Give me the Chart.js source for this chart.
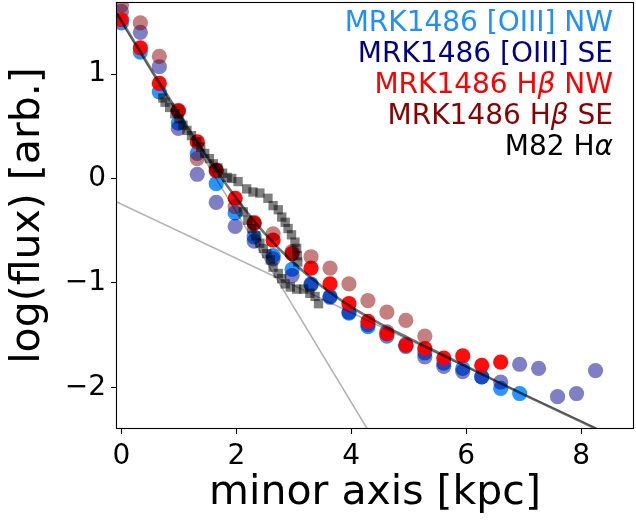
<!DOCTYPE html>
<html>
<head>
<meta charset="utf-8">
<script src="https://cdn.jsdelivr.net/npm/chart.js@4/dist/chart.umd.min.js"></script>
<style>
  html, body { margin: 0; padding: 0; background: #fff; }
  #c { display: block; }
</style>
</head>
<body>
<canvas id="c" width="636" height="522"></canvas>
<script>
// ---- tick labels ----
const xTicks = [0, 2, 4, 6, 8];
const yTicks = [-2, -1, 0, 1];

// ---- MRK1486 [OIII] NW ----
const oiiiNW_x = [0, 0.33, 0.66, 0.99, 1.32, 1.65, 1.98, 2.31, 2.64, 2.97, 3.30, 3.63, 3.96, 4.29, 4.62, 4.95, 5.28, 5.61, 5.94, 6.27, 6.60, 6.93];
const oiiiNW_y = [1.49, 1.21, 0.83, 0.53, 0.24, -0.05, -0.33, -0.56, -0.74, -0.87, -1.01, -1.13, -1.29, -1.42, -1.51, -1.61, -1.67, -1.77, -1.82, -1.90, -2.01, -2.06];

// ---- MRK1486 [OIII] SE ----
const oiiiSE_x = [0, 0.33, 0.66, 0.99, 1.32, 1.65, 1.98, 2.31, 2.64, 2.97, 3.30, 3.63, 3.96, 4.29, 4.62, 4.95, 5.28, 5.61, 5.94, 6.27, 6.60, 6.93, 7.26, 7.59, 7.92, 8.25];
const oiiiSE_y = [1.60, 1.40, 1.07, 0.48, 0.04, -0.23, -0.46, -0.60, -0.77, -0.93, -1.02, -1.14, -1.28, -1.40, -1.47, -1.59, -1.71, -1.80, -1.85, -1.90, -1.95, -1.78, -1.82, -2.09, -2.06, -1.84];

// ---- MRK1486 Hbeta NW ----
const hbNW_x = [0, 0.33, 0.66, 0.99, 1.32, 1.65, 1.98, 2.31, 2.64, 2.97, 3.30, 3.63, 3.96, 4.29, 4.62, 4.95, 5.28, 5.61, 5.94, 6.27, 6.60];
const hbNW_y = [1.52, 1.25, 0.91, 0.65, 0.35, 0.08, -0.19, -0.43, -0.59, -0.72, -0.86, -1.01, -1.20, -1.37, -1.49, -1.60, -1.63, -1.72, -1.70, -1.79, -1.76];

// ---- MRK1486 Hbeta SE ----
const hbSE_x = [0, 0.33, 0.66, 0.99, 1.32, 1.65, 1.98, 2.31, 2.64, 2.97, 3.30, 3.63, 3.96, 4.29, 4.62, 4.95, 5.28];
const hbSE_y = [1.66, 1.49, 1.17, 0.64, 0.19, 0.07, -0.27, -0.42, -0.53, -0.70, -0.75, -0.86, -1.01, -1.17, -1.28, -1.36, -1.51];

// ---- M82 Halpha ----
const m82_x = [0.72, 0.76, 0.84, 0.93, 1.00, 1.07, 1.14, 1.22, 1.31, 1.38, 1.45, 1.53, 1.60, 1.68, 1.76, 1.84,
               1.92, 2.03, 2.18, 2.29, 2.41, 2.55, 2.64, 2.73, 2.79, 2.85, 2.90, 2.96, 3.02, 3.05, 3.06, 3.07,
               2.12, 2.20, 2.27, 2.34, 2.41, 2.47, 2.53, 2.59, 2.64, 2.73, 2.79, 2.85, 2.94, 3.05, 3.17, 3.28, 3.37, 3.43];
const m82_y = [0.77, 0.73, 0.68, 0.62, 0.57, 0.51, 0.46, 0.41, 0.35, 0.30, 0.24, 0.19, 0.14, 0.10, 0.05, 0.01,
               0.00, -0.03, -0.10, -0.13, -0.14, -0.19, -0.26, -0.30, -0.37, -0.42, -0.48, -0.54, -0.61, -0.67, -0.74, -0.80,
               -0.32, -0.40, -0.48, -0.55, -0.62, -0.67, -0.72, -0.78, -0.85, -0.91, -0.96, -1.01, -1.04, -1.06, -1.06, -1.10, -1.13, -1.20];

// ---- fitted curve (dark) ----
const model_x = [-0.1, 0, 0.5, 1, 1.5, 2, 2.5, 3, 3.5, 4, 4.5, 5, 6, 7, 8, 8.5];
const model_y = [1.60, 1.51, 1.06, 0.62, 0.20, -0.19, -0.53, -0.81, -1.04, -1.23, -1.39, -1.53, -1.80, -2.07, -2.33, -2.46];

// ---- component lines (light) ----
const steep_x = [-0.1, 4.5];
const steep_y = [1.59, -2.60];
const shallow_x = [-0.1, 9.0];
const shallow_y = [-0.22, -2.585];

// ---- legend ----
const legendLabels = ['MRK1486 [OIII] NW', 'MRK1486 [OIII] SE', 'MRK1486 Hβ NW', 'MRK1486 Hβ SE', 'M82 Hα'];
const legendColors = ['#1E90FF', '#00008B', '#FF0000', '#8B0000', '#000000'];

const zip = (xs, ys) => xs.map((x, i) => ({ x: x, y: ys[i] }));
const FONT = '"DejaVu Sans", "Liberation Sans", sans-serif';

const frameAndLegend = {
  id: 'frameAndLegend',
  afterDraw(chart) {
    const ctx = chart.ctx;
    const a = chart.chartArea;
    ctx.save();
    ctx.strokeStyle = '#000';
    ctx.lineWidth = 1.1;
    ctx.strokeRect(a.left + 0.5, a.top + 0.5, a.right - a.left - 1, a.bottom - a.top - 1);
    // legend text (right aligned)
    const size = 28;
    const xRight = 613;
    const yStart = 24, yStep = 31;
    ctx.textBaseline = 'middle';
    ctx.textAlign = 'left';
    legendLabels.forEach((txt, i) => {
      const parts = txt.split(/([α-ω])/).filter(s => s.length);
      const fonts = parts.map(p => /^[α-ω]$/.test(p) ? `italic ${size}px ${FONT}` : `${size}px ${FONT}`);
      const widths = parts.map((p, k) => { ctx.font = fonts[k]; return ctx.measureText(p).width; });
      let x = xRight - widths.reduce((s, w) => s + w, 0);
      ctx.fillStyle = legendColors[i];
      parts.forEach((p, k) => { ctx.font = fonts[k]; ctx.fillText(p, x, yStart + i * yStep); x += widths[k]; });
    });
    ctx.restore();
  }
};

const minusFmt = v => (v < 0 ? '\u2212' + Math.abs(v) : String(v));
const noPad = s => { s.paddingTop = 0; s.paddingBottom = 0; s.paddingLeft = 0; s.paddingRight = 0; };

new Chart(document.getElementById('c'), {
  type: 'scatter',
  data: {
    datasets: [
      { label: 'model', type: 'line', data: zip(model_x, model_y), showLine: true, pointRadius: 0,
        borderColor: 'rgba(0,0,0,0.55)', borderWidth: 2.6, cubicInterpolationMode: 'monotone', order: 0 },
      { label: 'steep', type: 'line', data: zip(steep_x, steep_y), showLine: true, pointRadius: 0,
        borderColor: 'rgba(0,0,0,0.3)', borderWidth: 1.6, order: 1 },
      { label: 'shallow', type: 'line', data: zip(shallow_x, shallow_y), showLine: true, pointRadius: 0,
        borderColor: 'rgba(0,0,0,0.3)', borderWidth: 1.6, order: 2 },
      { label: legendLabels[4], data: zip(m82_x, m82_y), pointStyle: 'rect', pointRadius: 6.6,
        backgroundColor: 'rgba(0,0,0,0.5)', borderWidth: 0, order: 3 },
      { label: legendLabels[3], data: zip(hbSE_x, hbSE_y), pointRadius: 7.6,
        backgroundColor: 'rgba(139,0,0,0.5)', borderWidth: 0, order: 4 },
      { label: legendLabels[2], data: zip(hbNW_x, hbNW_y), pointRadius: 7.6,
        backgroundColor: 'rgba(255,0,0,0.95)', borderWidth: 0, order: 5 },
      { label: legendLabels[1], data: zip(oiiiSE_x, oiiiSE_y), pointRadius: 7.6,
        backgroundColor: 'rgba(0,0,139,0.5)', borderWidth: 0, order: 6 },
      { label: legendLabels[0], data: zip(oiiiNW_x, oiiiNW_y), pointRadius: 7.6,
        backgroundColor: 'rgba(30,144,255,0.95)', borderWidth: 0, order: 7 }
    ]
  },
  options: {
    responsive: false,
    animation: false,
    devicePixelRatio: 1,
    layout: { autoPadding: false, padding: { top: 2, right: 2, left: 0, bottom: 0 } },
    plugins: { legend: { display: false }, tooltip: { enabled: false } },
    scales: {
      x: {
        type: 'linear', min: -0.094, max: 8.92,
        afterBuildTicks: s => { s.ticks = xTicks.map(v => ({ value: v })); },
        afterFit: s => { s.height = 93; noPad(s); },
        border: { display: false },
        grid: { display: true, drawOnChartArea: false, drawTicks: true, tickLength: 5, tickWidth: 1.1, color: '#000' },
        ticks: { color: '#000', padding: 6, font: { family: FONT, size: 28 }, maxRotation: 0, callback: minusFmt },
        title: { display: true, text: 'minor axis [kpc]', color: '#000',
                 font: { family: FONT, size: 41, lineHeight: 1 }, padding: { top: 0, bottom: 8 } }
      },
      y: {
        type: 'linear', min: -2.40, max: 1.69,
        afterBuildTicks: s => { s.ticks = yTicks.map(v => ({ value: v })); },
        afterFit: s => { s.width = 116; noPad(s); },
        border: { display: false },
        grid: { display: true, drawOnChartArea: false, drawTicks: true, tickLength: 5, tickWidth: 1.1, color: '#000' },
        ticks: { color: '#000', padding: 5, font: { family: FONT, size: 28 }, callback: minusFmt },
        title: { display: true, text: 'log(flux) [arb.]', color: '#000',
                 font: { family: FONT, size: 41, lineHeight: 1 }, padding: { top: 8, bottom: 0 } }
      }
    }
  },
  plugins: [frameAndLegend]
});
</script>
</body>
</html>
